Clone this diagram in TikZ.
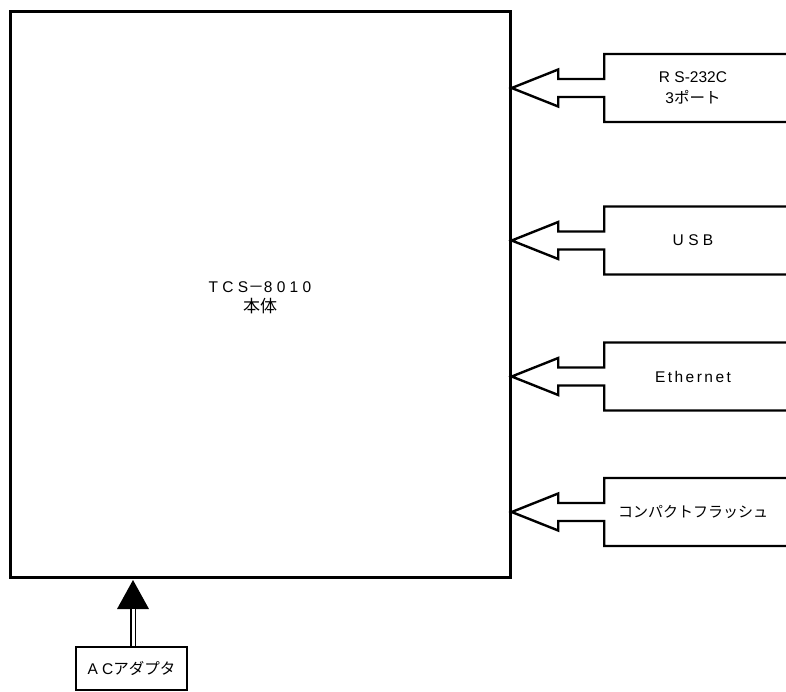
\documentclass[tikz,border=0pt]{standalone}
\usepackage{fontspec}
\setmainfont{Liberation Sans}
\newfontfamily\jp{Noto Sans CJK JP}
\newfontfamily\wide[LetterSpace=28]{Liberation Sans}
\newfontfamily\semi[LetterSpace=16]{Liberation Sans}
\usetikzlibrary{calc}
\begin{document}
\begin{tikzpicture}[x=1pt,y=-1pt,
  outline/.style={draw=black,line width=2.4pt,line join=miter},
  lbl/.style={font=\fontsize{15.5}{20.5}\selectfont,align=center,inner sep=0pt},
  port/.style={outline}]
\useasboundingbox (0,0) rectangle (786,691);
% main unit
\node[outline,minimum width=500pt,minimum height=566pt,inner sep=0pt] (main) at (260.5,294.5) {};
\node[lbl] (maintxt) at (260,298) {{\wide TCS}{\jp －}{\wide 8010}\\{\jp\fontsize{17}{20.5}\selectfont 本体}};
% ports
\foreach \nm/\c/\txt in {rs/88/{{\wide RS}-232C\\3{\jp ポート}},usb/240.5/{{\wide USB}},eth/376.5/{{\semi Ethernet}},cf/512/{{\jp\fontsize{15}{20}\selectfont コンパクトフラッシュ}}}{
  \node[lbl] (\nm) at (693,\c) {\txt};
  \coordinate (\nm tip) at (main.east |- \nm);
  \draw[port] ($(\nm)+(110,-34)$) -- ($(\nm tip)+(92.5,-34)$) -- ($(\nm tip)+(92.5,-9)$)
    -- ($(\nm tip)+(46.5,-9)$) -- ($(\nm tip)+(46.5,-18.5)$) -- (\nm tip)
    -- ($(\nm tip)+(46.5,18.5)$) -- ($(\nm tip)+(46.5,9)$) -- ($(\nm tip)+(92.5,9)$)
    -- ($(\nm tip)+(92.5,34)$) -- ($(\nm)+(110,34)$);
}
% AC adapter
\node[outline,lbl,minimum width=111pt,minimum height=43pt] (ac) at (131.5,668.5) {{\wide AC}{\jp アダプタ}};
\coordinate (actip) at (133,580);
\coordinate (acbase) at (133,609);
\fill (actip) -- ($(acbase)+(-16,0)$) -- ($(acbase)+(16,0)$) -- cycle;
\draw[line width=1.4pt,double=white,double distance=3pt] (acbase) -- (acbase |- ac.north);
\end{tikzpicture}
\end{document}
